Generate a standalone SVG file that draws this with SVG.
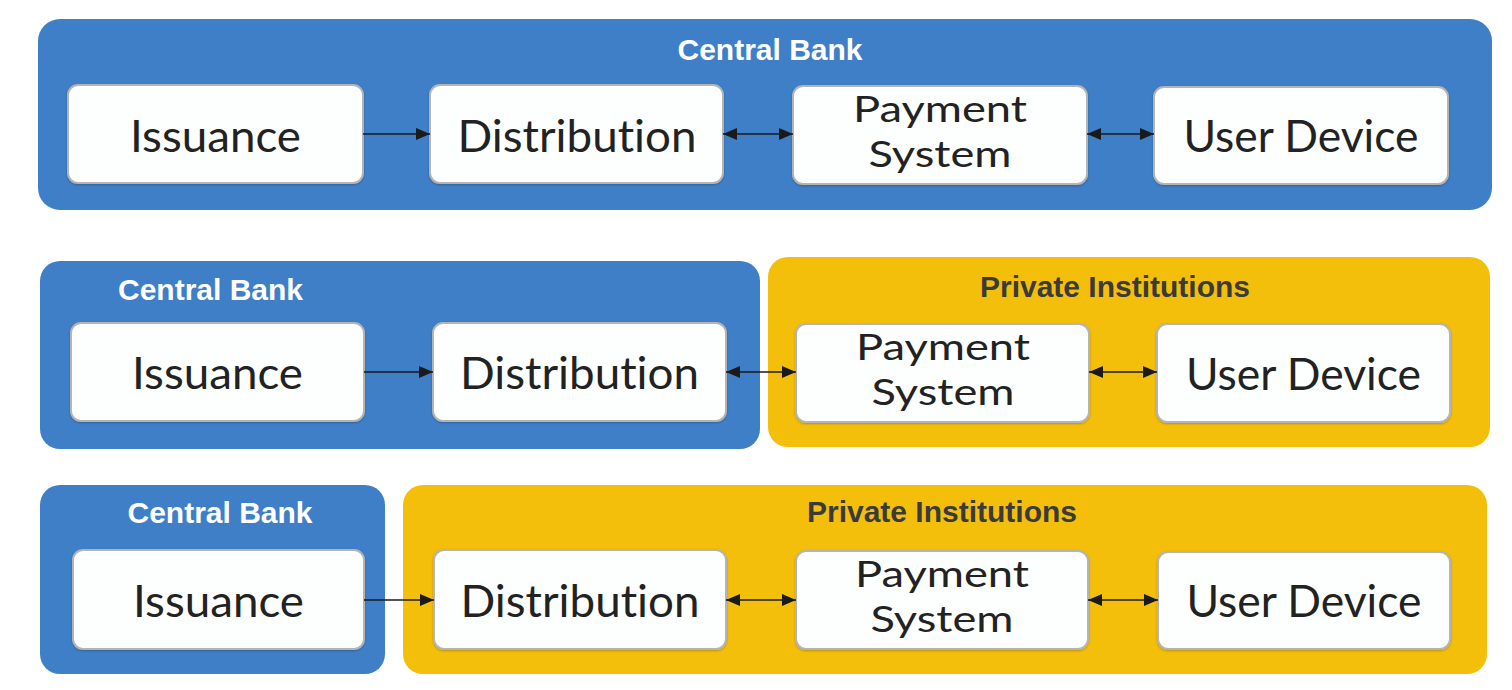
<svg xmlns="http://www.w3.org/2000/svg" width="1512" height="690" viewBox="0 0 1512 690">
<defs>
<marker id="ah" viewBox="0 0 14 12" refX="14" refY="6" markerWidth="14" markerHeight="12" markerUnits="userSpaceOnUse" orient="auto-start-reverse">
<path d="M0,0 L14,6 L0,12 z" fill="#1a1a1a"/>
</marker>
<filter id="sh" x="-5%" y="-5%" width="110%" height="115%">
<feDropShadow dx="0" dy="1" stdDeviation="1" flood-color="#000" flood-opacity="0.25"/>
</filter>
</defs>
<style>
.cb{fill:#3f7fc8}
.pi{fill:#f4bf0a}
.node{fill:#fdfefe;stroke:#b4b4b4;stroke-width:2;filter:url(#sh)}
.lbl{font-family:Lato,"Open Sans",sans-serif;font-size:45px;fill:#222;text-anchor:middle;font-variant-ligatures:none}
.lbl2{font-family:Lato,"Open Sans",sans-serif;font-size:37px;fill:#222;text-anchor:middle;font-variant-ligatures:none}
.hcb{font-family:"Liberation Sans",Arial,sans-serif;font-weight:bold;font-size:30px;fill:#fff}
.hpi{font-family:"Liberation Sans",Arial,sans-serif;font-weight:bold;font-size:30px;fill:#3a3a3a}
.conn{stroke:#1a1a1a;stroke-width:1.6;fill:none}
</style>
<rect width="1512" height="690" fill="#fff"/>

<g id="containers">
<g id="row1-central-bank"><rect class="cb" x="38" y="19" width="1454" height="191" rx="22"/><text class="hcb" x="770" y="60" text-anchor="middle">Central Bank</text></g>
<g id="row2-central-bank"><rect class="cb" x="40" y="261" width="720" height="188" rx="20"/><text class="hcb" x="118" y="300">Central Bank</text></g>
<g id="row2-private"><rect class="pi" x="768" y="257" width="722" height="190" rx="20"/><text class="hpi" x="1115" y="297" text-anchor="middle">Private Institutions</text></g>
<g id="row3-central-bank"><rect class="cb" x="40" y="485" width="345" height="189" rx="20"/><text class="hcb" x="220" y="523" text-anchor="middle">Central Bank</text></g>
<g id="row3-private"><rect class="pi" x="403" y="485" width="1084" height="189" rx="20"/><text class="hpi" x="942" y="522" text-anchor="middle">Private Institutions</text></g>
</g>

<g id="r1-issuance"><rect class="node" x="68" y="85" width="295" height="98" rx="10"/><text class="lbl" x="215.5" y="152" textLength="171" lengthAdjust="spacingAndGlyphs">Issuance</text></g>
<g id="r1-distribution"><rect class="node" x="430" y="85" width="293" height="98" rx="10"/><text class="lbl" x="577" y="152" textLength="239" lengthAdjust="spacingAndGlyphs">Distribution</text></g>
<g id="r1-payment"><rect class="node" x="793" y="86" width="294" height="98" rx="10"/><text class="lbl2"><tspan x="940" y="122" textLength="174" lengthAdjust="spacingAndGlyphs">Payment</tspan><tspan x="940" y="167" textLength="143" lengthAdjust="spacingAndGlyphs">System</tspan></text></g>
<g id="r1-user"><rect class="node" x="1154" y="87" width="294" height="97" rx="10"/><text class="lbl" x="1301" y="152" textLength="235" lengthAdjust="spacingAndGlyphs">User Device</text></g>

<g id="r2-issuance"><rect class="node" x="71" y="323" width="293" height="98" rx="10"/><text class="lbl" x="217.5" y="389" textLength="171" lengthAdjust="spacingAndGlyphs">Issuance</text></g>
<g id="r2-distribution"><rect class="node" x="433" y="323" width="293" height="98" rx="10"/><text class="lbl" x="579.5" y="389" textLength="239" lengthAdjust="spacingAndGlyphs">Distribution</text></g>
<g id="r2-payment"><rect class="node" x="796" y="324" width="293" height="98" rx="10"/><text class="lbl2"><tspan x="943" y="360" textLength="174" lengthAdjust="spacingAndGlyphs">Payment</tspan><tspan x="943" y="405" textLength="143" lengthAdjust="spacingAndGlyphs">System</tspan></text></g>
<g id="r2-user"><rect class="node" x="1157" y="324" width="293" height="98" rx="10"/><text class="lbl" x="1303.5" y="390" textLength="235" lengthAdjust="spacingAndGlyphs">User Device</text></g>

<g id="r3-issuance"><rect class="node" x="73" y="550" width="291" height="99" rx="10"/><text class="lbl" x="218.5" y="617" textLength="171" lengthAdjust="spacingAndGlyphs">Issuance</text></g>
<g id="r3-distribution"><rect class="node" x="434" y="550" width="292" height="99" rx="10"/><text class="lbl" x="580" y="617" textLength="239" lengthAdjust="spacingAndGlyphs">Distribution</text></g>
<g id="r3-payment"><rect class="node" x="796" y="551" width="292" height="98" rx="10"/><text class="lbl2"><tspan x="942" y="587" textLength="174" lengthAdjust="spacingAndGlyphs">Payment</tspan><tspan x="942" y="632" textLength="143" lengthAdjust="spacingAndGlyphs">System</tspan></text></g>
<g id="r3-user"><rect class="node" x="1158" y="552" width="292" height="97" rx="10"/><text class="lbl" x="1304" y="617" textLength="235" lengthAdjust="spacingAndGlyphs">User Device</text></g>

<g id="connectors">
<line class="conn" x1="363" y1="134" x2="430" y2="134" marker-end="url(#ah)"/>
<line class="conn" x1="723" y1="134" x2="793" y2="134" marker-start="url(#ah)" marker-end="url(#ah)"/>
<line class="conn" x1="1087" y1="134" x2="1154" y2="134" marker-start="url(#ah)" marker-end="url(#ah)"/>
<line class="conn" x1="364" y1="372" x2="433" y2="372" marker-end="url(#ah)"/>
<line class="conn" x1="726" y1="372" x2="796" y2="372" marker-start="url(#ah)" marker-end="url(#ah)"/>
<line class="conn" x1="1089" y1="372" x2="1157" y2="372" marker-start="url(#ah)" marker-end="url(#ah)"/>
<line class="conn" x1="364" y1="600" x2="434" y2="600" marker-end="url(#ah)"/>
<line class="conn" x1="726" y1="600" x2="796" y2="600" marker-start="url(#ah)" marker-end="url(#ah)"/>
<line class="conn" x1="1088" y1="600" x2="1158" y2="600" marker-start="url(#ah)" marker-end="url(#ah)"/>
</g>
</svg>
